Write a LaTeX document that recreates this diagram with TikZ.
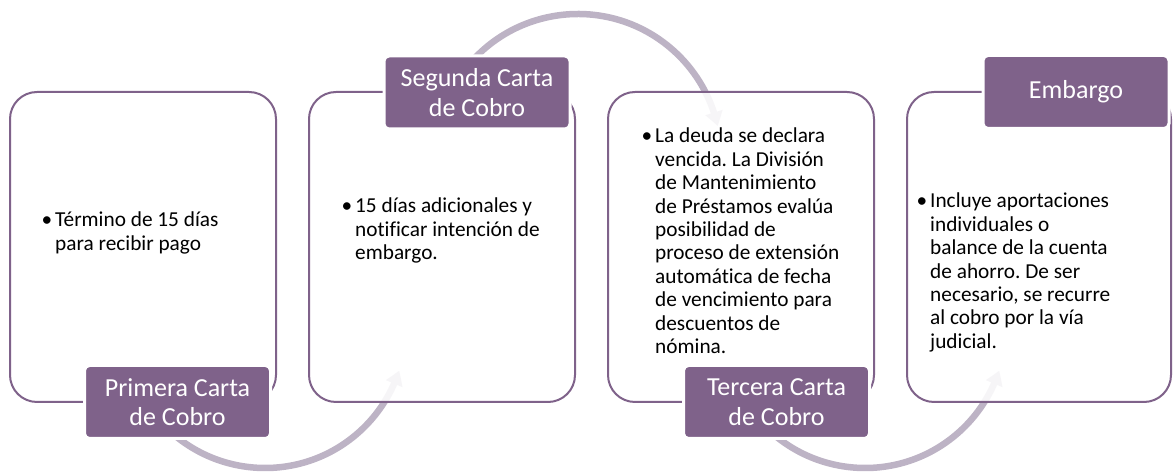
\documentclass[tikz,border=0pt]{standalone}
\usepackage{fontspec}
\setmainfont{Carlito}[Ligatures=CommonOff]
\usetikzlibrary{arrows.meta,bending}
\definecolor{plum}{HTML}{7F628A}
\definecolor{bandc}{HTML}{BDB3C5}
\newcommand\bulmark{\leavevmode\llap{\textbullet\hspace{3pt}}}
\newcommand\bodyfont{\fontsize{21.3}{23.4}\selectfont\frenchspacing}
\begin{document}
\begin{tikzpicture}[x=1pt,y=1pt,
  bigbox/.style={draw=plum, line width=2pt, rounded corners=27pt, fill=white,
    fill opacity=0.88, draw opacity=1, minimum width=266pt, minimum height=310pt, inner sep=0pt},
  titlebox/.style={fill=plum, draw=white, line width=3pt, rounded corners=5pt,
    minimum width=186pt, minimum height=73pt, inner sep=0pt, text=white, align=center,
    font=\fontsize{26}{29.5}\selectfont},
  bodytext/.style={anchor=base west, inner sep=0pt, text=black},
  arrowband/.style={draw=bandc, line width=6.5pt, -{Triangle[width=17pt,length=14pt,bend]}}
]
\useasboundingbox (0,0) rectangle (1173,476);
% arc centres
\coordinate (c1) at (265,149);
\coordinate (c2) at (578,319);
\coordinate (c3) at (865,149);
% curved arrows (behind boxes)
\draw[arrowband] (c1) ++(220:141) arc[start angle=220, end angle=342, radius=141];
\draw[arrowband] (c2) ++(140:143) arc[start angle=140, end angle=12.5, radius=143];
\draw[arrowband] (c3) ++(220:141) arc[start angle=220, end angle=342, radius=141];
% big boxes
\node[bigbox] (b1) at (143,229) {};
\node[bigbox] (b2) at (442,229) {};
\node[bigbox] (b3) at (741,229) {};
\node[bigbox, minimum width=264pt] (b4) at (1039,229) {};
% titles
\node[titlebox] (h1) at (177.5,74) {Primera Carta\\de Cobro};
\node[titlebox] (h2) at (477,383.5) {Segunda Carta\\de Cobro};
\node[titlebox] (h3) at (776.5,74) {Tercera Carta\\de Cobro};
\node[titlebox] (h4) at (1076,384) {Embargo};
% body texts
\node[bodytext] (t1) at (55,249) {\parbox[t]{215pt}{\bodyfont\raggedright\noindent
  \bulmark Término de 15 días\\para recibir pago}};
\node[bodytext] (t2) at (355,263) {\parbox[t]{215pt}{\bodyfont\raggedright\noindent
  \bulmark 15 días adicionales y\\notificar intención de\\embargo.}};
\node[bodytext] (t3) at (655,333) {\parbox[t]{215pt}{\bodyfont\raggedright\noindent
  \bulmark La deuda se declara\\vencida. La División\\de Mantenimiento\\de Préstamos evalúa\\posibilidad de\\proceso de extensión\\automática de fecha\\de vencimiento para\\descuentos de\\nómina.}};
\node[bodytext] (t4) at (930,268) {\parbox[t]{235pt}{\bodyfont\raggedright\noindent
  \bulmark Incluye aportaciones\\individuales o\\balance de la cuenta\\de ahorro. De ser\\necesario, se recurre\\al cobro por la vía\\judicial.}};
\end{tikzpicture}
\end{document}
